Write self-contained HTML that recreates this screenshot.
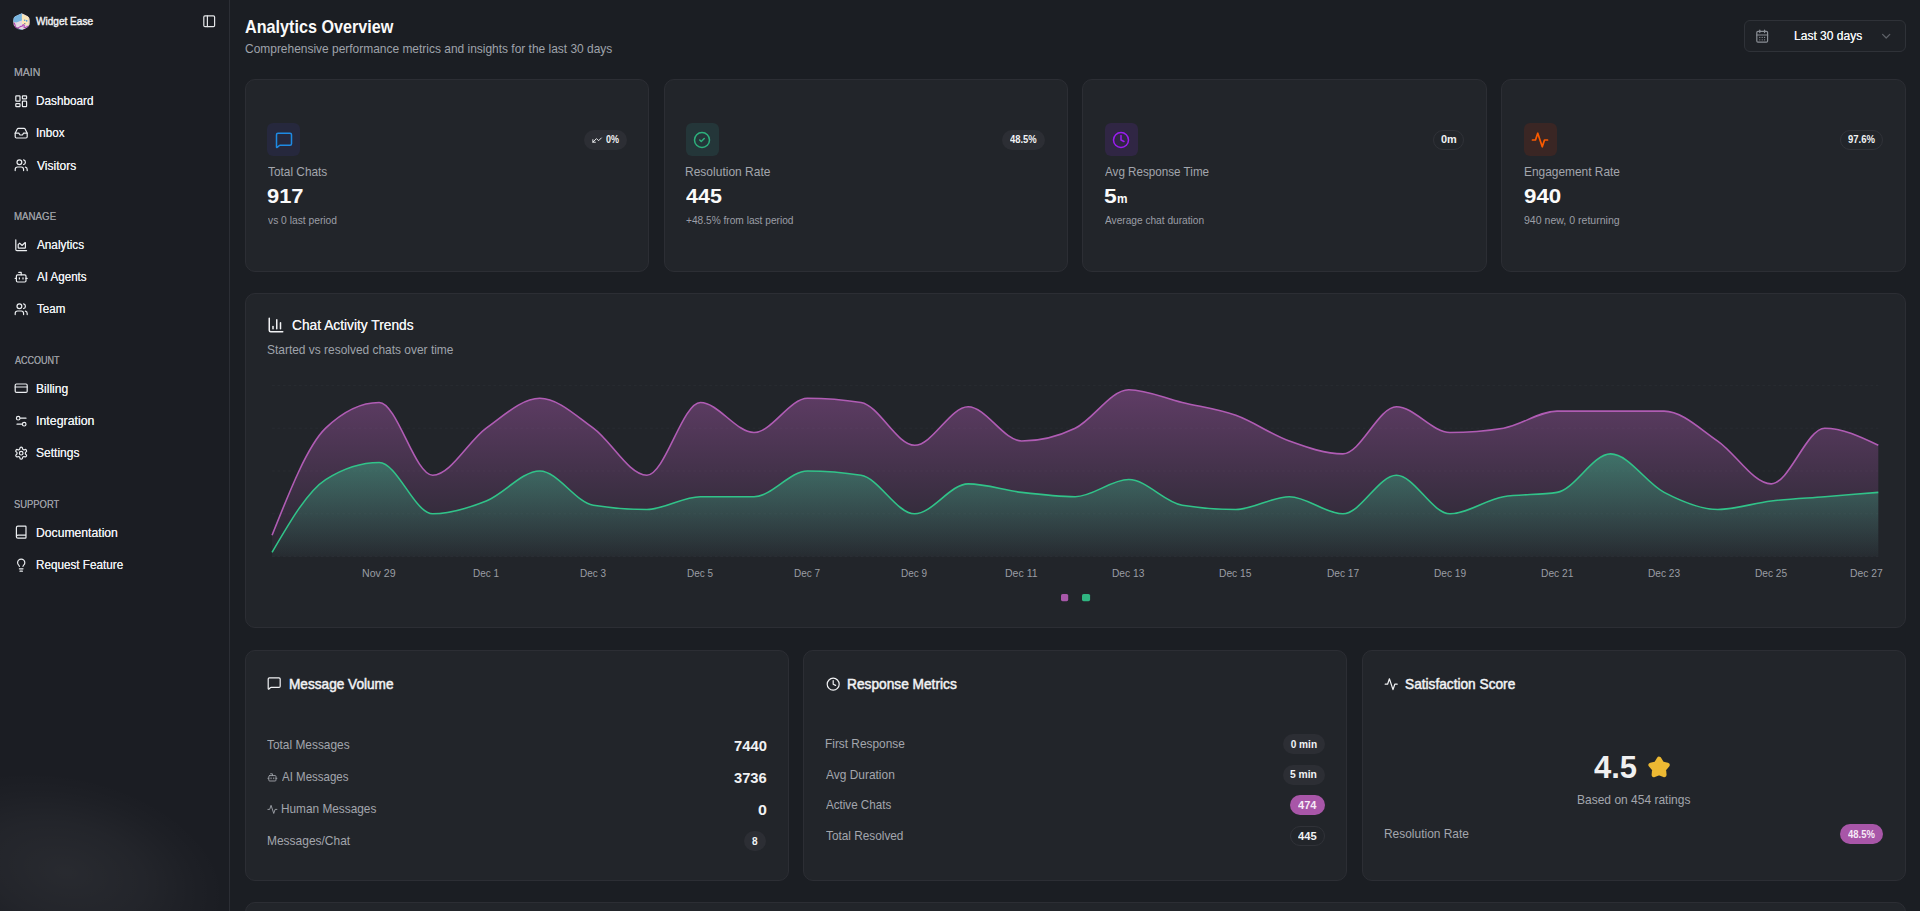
<!DOCTYPE html>
<html lang="en"><head><meta charset="utf-8"><title>Analytics Overview</title>
<style>
html,body{margin:0;padding:0}
html{overflow:hidden;height:911px;background:#1b1e23}
body{width:1920px;height:911px;overflow:hidden;position:relative;background:#1b1e23;font-family:"Liberation Sans",sans-serif}
.b{position:absolute;box-sizing:border-box}
.i{position:absolute;display:block;overflow:visible}
.t{position:absolute;white-space:nowrap;line-height:1;transform-origin:0 0;display:block}
#side{position:absolute;left:0;top:0;width:229px;height:911px;border-right:1px solid #2c2e35;background:#1b1d23;overflow:hidden}
#glow{position:absolute;left:-96px;top:776px;width:324px;height:192px;background:radial-gradient(closest-side,rgba(255,255,255,.06),rgba(255,255,255,.034) 50%,rgba(255,255,255,.012) 80%,rgba(255,255,255,0) 100%);transform:rotate(13deg)}
</style></head><body>
<div id="side"><div id="glow"></div></div>
<svg class="i" style="left:12.8px;top:12.8px;width:17.3px;height:17.3px;clip-path:circle(49.5%)" viewBox="0 0 24 24">
<path d="M12.3 .3 22.8 5.400q.7.400.7 1.200v11q0 .8-.7 1.200L13.100 23.600q-.7.400-1.400 0L1.100 18.500q-.7-.4-.7-1.200V6.700q0-.8.700-1.200z" fill="#ddd3df"/>
<path d="M12.3 .3 1.100 5.600q-.7.400-.7 1.200v5.200l4.500 1.200 7.500-2.700z" fill="#78b5e0"/>
<path d="M12.400 1.500 22 6v11.300l-9.500-2z" fill="#fbe6b9"/>
<path d="M22 6l1.500.8v10.600l-1.500.8z" fill="#a9a6ae"/>
<path d="M5 13.200l7.300-2.600.2 11.600-7-3z" fill="#e3d8e4"/>
<circle cx="16.200" cy="10" r="1.150" fill="#3f9be0"/><circle cx="19" cy="11" r="1.150" fill="#3f9be0"/>
<rect x="15.500" y="14" width="1.600" height="1.600" fill="#6b6e78"/>
<path d="M1.600 13.500l1.300 3.500 1 4.200 3.500-.6 2.600-1.700 3-.8 1.200-2 1.500 1.500-.5 2.200 2 .6 2.300-1.500 2.300-1" fill="none" stroke="#b043b3" stroke-width="1.500" stroke-linejoin="round"/>
<path d="M3 21.200l5 2 4.500-.2" fill="none" stroke="#5d9fd0" stroke-width="1"/>
</svg>
<div class="b" style="left:1744px;top:20px;width:162px;height:32px;background:#1e2126;border-radius:6px;border:1px solid #2f3238;"></div>
<div class="b" style="left:245px;top:79px;width:404px;height:193px;background:#22252a;border-radius:10px;border:1px solid #2c2e34;"></div>
<div class="b" style="left:664px;top:79px;width:404px;height:193px;background:#22252a;border-radius:10px;border:1px solid #2c2e34;"></div>
<div class="b" style="left:1082px;top:79px;width:405px;height:193px;background:#22252a;border-radius:10px;border:1px solid #2c2e34;"></div>
<div class="b" style="left:1501px;top:79px;width:405px;height:193px;background:#22252a;border-radius:10px;border:1px solid #2c2e34;"></div>
<div class="b" style="left:267px;top:123px;width:33px;height:33px;background:#26283d;border-radius:6px;"></div>
<div class="b" style="left:686px;top:123px;width:32.5px;height:33px;background:#243639;border-radius:6px;"></div>
<div class="b" style="left:1105px;top:123px;width:32.5px;height:33px;background:#302644;border-radius:6px;"></div>
<div class="b" style="left:1524px;top:123px;width:32.5px;height:33px;background:#3a2624;border-radius:6px;"></div>
<div class="b" style="left:584px;top:130px;width:42.799999999999955px;height:20px;background:#2c2e34;border-radius:10px;"></div>
<div class="b" style="left:1002.4px;top:130px;width:42.39999999999998px;height:20px;background:#2c2e34;border-radius:10px;"></div>
<div class="b" style="left:1433.2px;top:130px;width:30.59999999999991px;height:20px;background:transparent;border-radius:10px;border:1px solid #303238;"></div>
<div class="b" style="left:1840.2px;top:130px;width:42.399999999999864px;height:20px;background:transparent;border-radius:10px;border:1px solid #303238;"></div>
<div class="b" style="left:245px;top:293px;width:1661px;height:335px;background:#22252a;border-radius:10px;border:1px solid #2c2e34;"></div>
<div class="b" style="left:245px;top:650px;width:544px;height:231px;background:#22252a;border-radius:10px;border:1px solid #2c2e34;"></div>
<div class="b" style="left:803px;top:650px;width:544px;height:231px;background:#22252a;border-radius:10px;border:1px solid #2c2e34;"></div>
<div class="b" style="left:1362px;top:650px;width:544px;height:231px;background:#22252a;border-radius:10px;border:1px solid #2c2e34;"></div>
<div class="b" style="left:245px;top:902px;width:1661px;height:28px;background:#22252a;border-radius:10px;border:1px solid #2c2e34;"></div>
<div class="b" style="left:743.8px;top:831px;width:22.0px;height:20px;background:#2c2e34;border-radius:10px;"></div>
<div class="b" style="left:1283.3px;top:734.2px;width:41.600000000000136px;height:19.799999999999955px;background:#2c2e34;border-radius:10px;"></div>
<div class="b" style="left:1283.3px;top:764.8px;width:41.600000000000136px;height:19.800000000000068px;background:#2c2e34;border-radius:10px;"></div>
<div class="b" style="left:1290.1px;top:795.2px;width:34.80000000000018px;height:19.799999999999955px;background:#a856a8;border-radius:10px;"></div>
<div class="b" style="left:1290.1px;top:826.0px;width:34.80000000000018px;height:19.799999999999955px;background:transparent;border-radius:10px;border:1px solid #303238;"></div>
<div class="b" style="left:1839.8px;top:824.4px;width:43.0px;height:19.800000000000068px;background:#a856a8;border-radius:10px;"></div>
<svg class="i" style="left:0;top:0;width:1920px;height:911px" viewBox="0 0 1920 911">
<defs>
<linearGradient id="gp" x1="0" y1="0" x2="0" y2="1"><stop offset="0" stop-color="#b05cb4" stop-opacity=".43"/><stop offset="1" stop-color="#b05cb4" stop-opacity=".03"/></linearGradient>
<linearGradient id="gg" x1="0" y1="0" x2="0" y2="1"><stop offset="0" stop-color="#31c389" stop-opacity=".43"/><stop offset="1" stop-color="#31c389" stop-opacity=".03"/></linearGradient>
</defs>
<g stroke="#33363d" stroke-width="1" stroke-dasharray="2.7 2.7" opacity=".42"><line x1="272.1" x2="1878.3" y1="385.4" y2="385.4"/><line x1="272.1" x2="1878.3" y1="428.2" y2="428.2"/><line x1="272.1" x2="1878.3" y1="471.0" y2="471.0"/><line x1="272.1" x2="1878.3" y1="513.8" y2="513.8"/><line x1="272.1" x2="1878.3" y1="556.6" y2="556.6"/></g>
<path d="M272.10,535.20C289.95,490.26 307.79,445.32 325.64,428.20C343.49,411.08 361.33,402.52 379.18,402.52C397.03,402.52 414.87,475.28 432.72,475.28C450.57,475.28 468.41,441.04 486.26,428.20C504.11,415.36 521.95,398.24 539.80,398.24C557.65,398.24 575.49,415.36 593.34,428.20C611.19,441.04 629.03,475.28 646.88,475.28C664.73,475.28 682.57,402.52 700.42,402.52C718.27,402.52 736.11,432.48 753.96,432.48C771.81,432.48 789.65,398.24 807.50,398.24C825.35,398.24 843.19,399.67 861.04,402.52C878.89,405.37 896.73,445.32 914.58,445.32C932.43,445.32 950.27,406.80 968.12,406.80C985.97,406.80 1003.81,441.04 1021.66,441.04C1039.51,441.04 1057.35,436.76 1075.20,428.20C1093.05,419.64 1110.89,389.68 1128.74,389.68C1146.59,389.68 1164.43,398.24 1182.28,402.52C1200.13,406.80 1217.97,408.94 1235.82,415.36C1253.67,421.78 1271.51,434.62 1289.36,441.04C1307.21,447.46 1325.05,453.88 1342.90,453.88C1360.75,453.88 1378.59,406.80 1396.44,406.80C1414.29,406.80 1432.13,432.48 1449.98,432.48C1467.83,432.48 1485.67,431.05 1503.52,428.20C1521.37,425.35 1539.21,411.08 1557.06,411.08C1574.91,411.08 1592.75,411.08 1610.60,411.08C1628.45,411.08 1646.29,411.08 1664.14,411.08C1681.99,411.08 1699.83,428.91 1717.68,441.04C1735.53,453.17 1753.37,483.84 1771.22,483.84C1789.07,483.84 1806.91,428.20 1824.76,428.20C1842.61,428.20 1860.45,436.76 1878.30,445.32L1878.3,556.6L272.1,556.6Z" fill="url(#gp)"/>
<path d="M272.10,535.20C289.95,490.26 307.79,445.32 325.64,428.20C343.49,411.08 361.33,402.52 379.18,402.52C397.03,402.52 414.87,475.28 432.72,475.28C450.57,475.28 468.41,441.04 486.26,428.20C504.11,415.36 521.95,398.24 539.80,398.24C557.65,398.24 575.49,415.36 593.34,428.20C611.19,441.04 629.03,475.28 646.88,475.28C664.73,475.28 682.57,402.52 700.42,402.52C718.27,402.52 736.11,432.48 753.96,432.48C771.81,432.48 789.65,398.24 807.50,398.24C825.35,398.24 843.19,399.67 861.04,402.52C878.89,405.37 896.73,445.32 914.58,445.32C932.43,445.32 950.27,406.80 968.12,406.80C985.97,406.80 1003.81,441.04 1021.66,441.04C1039.51,441.04 1057.35,436.76 1075.20,428.20C1093.05,419.64 1110.89,389.68 1128.74,389.68C1146.59,389.68 1164.43,398.24 1182.28,402.52C1200.13,406.80 1217.97,408.94 1235.82,415.36C1253.67,421.78 1271.51,434.62 1289.36,441.04C1307.21,447.46 1325.05,453.88 1342.90,453.88C1360.75,453.88 1378.59,406.80 1396.44,406.80C1414.29,406.80 1432.13,432.48 1449.98,432.48C1467.83,432.48 1485.67,431.05 1503.52,428.20C1521.37,425.35 1539.21,411.08 1557.06,411.08C1574.91,411.08 1592.75,411.08 1610.60,411.08C1628.45,411.08 1646.29,411.08 1664.14,411.08C1681.99,411.08 1699.83,428.91 1717.68,441.04C1735.53,453.17 1753.37,483.84 1771.22,483.84C1789.07,483.84 1806.91,428.20 1824.76,428.20C1842.61,428.20 1860.45,436.76 1878.30,445.32" fill="none" stroke="#b05cb4" stroke-width="1.6"/>
<path d="M272.10,552.32C289.95,521.65 307.79,490.97 325.64,479.56C343.49,468.15 361.33,462.44 379.18,462.44C397.03,462.44 414.87,513.80 432.72,513.80C450.57,513.80 468.41,508.09 486.26,500.96C504.11,493.83 521.95,471.00 539.80,471.00C557.65,471.00 575.49,502.39 593.34,505.24C611.19,508.09 629.03,509.52 646.88,509.52C664.73,509.52 682.57,496.68 700.42,496.68C718.27,496.68 736.11,496.68 753.96,496.68C771.81,496.68 789.65,471.00 807.50,471.00C825.35,471.00 843.19,472.43 861.04,475.28C878.89,478.13 896.73,513.80 914.58,513.80C932.43,513.80 950.27,483.84 968.12,483.84C985.97,483.84 1003.81,490.26 1021.66,492.40C1039.51,494.54 1057.35,496.68 1075.20,496.68C1093.05,496.68 1110.89,479.56 1128.74,479.56C1146.59,479.56 1164.43,502.39 1182.28,505.24C1200.13,508.09 1217.97,509.52 1235.82,509.52C1253.67,509.52 1271.51,496.68 1289.36,496.68C1307.21,496.68 1325.05,513.80 1342.90,513.80C1360.75,513.80 1378.59,475.28 1396.44,475.28C1414.29,475.28 1432.13,513.80 1449.98,513.80C1467.83,513.80 1485.67,499.53 1503.52,496.68C1521.37,493.83 1539.21,495.25 1557.06,492.40C1574.91,489.55 1592.75,453.88 1610.60,453.88C1628.45,453.88 1646.29,483.13 1664.14,492.40C1681.99,501.67 1699.83,509.52 1717.68,509.52C1735.53,509.52 1753.37,503.10 1771.22,500.96C1789.07,498.82 1806.91,498.11 1824.76,496.68C1842.61,495.25 1860.45,493.83 1878.30,492.40L1878.3,556.6L272.1,556.6Z" fill="url(#gg)"/>
<path d="M272.10,552.32C289.95,521.65 307.79,490.97 325.64,479.56C343.49,468.15 361.33,462.44 379.18,462.44C397.03,462.44 414.87,513.80 432.72,513.80C450.57,513.80 468.41,508.09 486.26,500.96C504.11,493.83 521.95,471.00 539.80,471.00C557.65,471.00 575.49,502.39 593.34,505.24C611.19,508.09 629.03,509.52 646.88,509.52C664.73,509.52 682.57,496.68 700.42,496.68C718.27,496.68 736.11,496.68 753.96,496.68C771.81,496.68 789.65,471.00 807.50,471.00C825.35,471.00 843.19,472.43 861.04,475.28C878.89,478.13 896.73,513.80 914.58,513.80C932.43,513.80 950.27,483.84 968.12,483.84C985.97,483.84 1003.81,490.26 1021.66,492.40C1039.51,494.54 1057.35,496.68 1075.20,496.68C1093.05,496.68 1110.89,479.56 1128.74,479.56C1146.59,479.56 1164.43,502.39 1182.28,505.24C1200.13,508.09 1217.97,509.52 1235.82,509.52C1253.67,509.52 1271.51,496.68 1289.36,496.68C1307.21,496.68 1325.05,513.80 1342.90,513.80C1360.75,513.80 1378.59,475.28 1396.44,475.28C1414.29,475.28 1432.13,513.80 1449.98,513.80C1467.83,513.80 1485.67,499.53 1503.52,496.68C1521.37,493.83 1539.21,495.25 1557.06,492.40C1574.91,489.55 1592.75,453.88 1610.60,453.88C1628.45,453.88 1646.29,483.13 1664.14,492.40C1681.99,501.67 1699.83,509.52 1717.68,509.52C1735.53,509.52 1753.37,503.10 1771.22,500.96C1789.07,498.82 1806.91,498.11 1824.76,496.68C1842.61,495.25 1860.45,493.83 1878.30,492.40" fill="none" stroke="#31c389" stroke-width="1.6"/>
<rect x="1061" y="594" width="7.2" height="7.2" rx="1.6" fill="#a858a9"/>
<rect x="1082" y="594" width="8.1" height="7.2" rx="1.6" fill="#30b581"/>
</svg>
<svg class="i" style="left:201.90px;top:13.80px;width:14.4px;height:14.4px;opacity:1" viewBox="0 0 24 24" fill="none" stroke="#e4e5e8" stroke-width="2" stroke-linecap="round" stroke-linejoin="round"><rect width="18" height="18" x="3" y="3" rx="2"/><path d="M9 3v18"/></svg>
<svg class="i" style="left:14.10px;top:93.90px;width:14.4px;height:14.4px;opacity:1" viewBox="0 0 24 24" fill="none" stroke="#eceef1" stroke-width="2" stroke-linecap="round" stroke-linejoin="round"><rect x="3" y="3" width="7" height="9" rx="1"/><rect x="14" y="3" width="7" height="5" rx="1"/><rect x="14" y="12" width="7" height="9" rx="1"/><rect x="3" y="16" width="7" height="5" rx="1"/></svg>
<svg class="i" style="left:14.10px;top:126.30px;width:14.4px;height:14.4px;opacity:1" viewBox="0 0 24 24" fill="none" stroke="#eceef1" stroke-width="2" stroke-linecap="round" stroke-linejoin="round"><polyline points="22 12 16 12 14 15 10 15 8 12 2 12"/><path d="M5.45 5.11 2 12v6a2 2 0 0 0 2 2h16a2 2 0 0 0 2-2v-6l-3.45-6.89A2 2 0 0 0 16.76 4H7.24a2 2 0 0 0-1.79 1.11z"/></svg>
<svg class="i" style="left:14.10px;top:157.70px;width:14.4px;height:14.4px;opacity:1" viewBox="0 0 24 24" fill="none" stroke="#eceef1" stroke-width="2" stroke-linecap="round" stroke-linejoin="round"><path d="M16 21v-2a4 4 0 0 0-4-4H6a4 4 0 0 0-4 4v2"/><circle cx="9" cy="7" r="4"/><path d="M22 21v-2a4 4 0 0 0-3-3.87"/><path d="M16 3.13a4 4 0 0 1 0 7.75"/></svg>
<svg class="i" style="left:14.10px;top:237.90px;width:14.4px;height:14.4px;opacity:1" viewBox="0 0 24 24" fill="none" stroke="#eceef1" stroke-width="2" stroke-linecap="round" stroke-linejoin="round"><path d="M3 3v16a2 2 0 0 0 2 2h16"/><path d="M7 11.207a.5.5 0 0 1 .146-.353l2-2a.5.5 0 0 1 .708 0l3.292 3.292a.5.5 0 0 0 .708 0l4.292-4.292a.5.5 0 0 1 .854.353V16a1 1 0 0 1-1 1H8a1 1 0 0 1-1-1z"/></svg>
<svg class="i" style="left:14.10px;top:270.30px;width:14.4px;height:14.4px;opacity:1" viewBox="0 0 24 24" fill="none" stroke="#eceef1" stroke-width="2" stroke-linecap="round" stroke-linejoin="round"><path d="M12 8V4H8"/><rect width="16" height="12" x="4" y="8" rx="2"/><path d="M2 14h2"/><path d="M20 14h2"/><path d="M15 13v2"/><path d="M9 13v2"/></svg>
<svg class="i" style="left:14.10px;top:301.80px;width:14.4px;height:14.4px;opacity:1" viewBox="0 0 24 24" fill="none" stroke="#eceef1" stroke-width="2" stroke-linecap="round" stroke-linejoin="round"><path d="M16 21v-2a4 4 0 0 0-4-4H6a4 4 0 0 0-4 4v2"/><circle cx="9" cy="7" r="4"/><path d="M22 21v-2a4 4 0 0 0-3-3.87"/><path d="M16 3.13a4 4 0 0 1 0 7.75"/></svg>
<svg class="i" style="left:14.10px;top:380.90px;width:14.4px;height:14.4px;opacity:1" viewBox="0 0 24 24" fill="none" stroke="#eceef1" stroke-width="2" stroke-linecap="round" stroke-linejoin="round"><rect width="20" height="14" x="2" y="5" rx="2"/><line x1="2" x2="22" y1="10" y2="10"/></svg>
<svg class="i" style="left:14.10px;top:414.30px;width:14.4px;height:14.4px;opacity:1" viewBox="0 0 24 24" fill="none" stroke="#eceef1" stroke-width="2" stroke-linecap="round" stroke-linejoin="round"><path d="M20 7h-9"/><path d="M14 17H5"/><circle cx="17" cy="17" r="3"/><circle cx="7" cy="7" r="3"/></svg>
<svg class="i" style="left:14.10px;top:445.80px;width:14.4px;height:14.4px;opacity:1" viewBox="0 0 24 24" fill="none" stroke="#eceef1" stroke-width="2" stroke-linecap="round" stroke-linejoin="round"><path d="M12.22 2h-.44a2 2 0 0 0-2 2v.18a2 2 0 0 1-1 1.73l-.43.25a2 2 0 0 1-2 0l-.15-.08a2 2 0 0 0-2.73.73l-.22.38a2 2 0 0 0 .73 2.73l.15.1a2 2 0 0 1 1 1.72v.51a2 2 0 0 1-1 1.74l-.15.09a2 2 0 0 0-.73 2.73l.22.38a2 2 0 0 0 2.73.73l.15-.08a2 2 0 0 1 2 0l.43.25a2 2 0 0 1 1 1.73V20a2 2 0 0 0 2 2h.44a2 2 0 0 0 2-2v-.18a2 2 0 0 1 1-1.73l.43-.25a2 2 0 0 1 2 0l.15.08a2 2 0 0 0 2.73-.73l.22-.39a2 2 0 0 0-.73-2.73l-.15-.08a2 2 0 0 1-1-1.74v-.5a2 2 0 0 1 1-1.74l.15-.09a2 2 0 0 0 .73-2.73l-.22-.38a2 2 0 0 0-2.73-.73l-.15.08a2 2 0 0 1-2 0l-.43-.25a2 2 0 0 1-1-1.73V4a2 2 0 0 0-2-2z"/><circle cx="12" cy="12" r="3"/></svg>
<svg class="i" style="left:14.10px;top:524.90px;width:14.4px;height:14.4px;opacity:1" viewBox="0 0 24 24" fill="none" stroke="#eceef1" stroke-width="2" stroke-linecap="round" stroke-linejoin="round"><path d="M4 19.5v-15A2.5 2.5 0 0 1 6.5 2H19a1 1 0 0 1 1 1v18a1 1 0 0 1-1 1H6.5a1 1 0 0 1 0-5H20"/></svg>
<svg class="i" style="left:14.10px;top:558.30px;width:14.4px;height:14.4px;opacity:1" viewBox="0 0 24 24" fill="none" stroke="#eceef1" stroke-width="2" stroke-linecap="round" stroke-linejoin="round"><path d="M15 14c.2-1 .7-1.7 1.5-2.5 1-.9 1.5-2.2 1.5-3.5A6 6 0 0 0 6 8c0 1 .2 2.2 1.5 3.5.7.7 1.3 1.5 1.5 2.5"/><path d="M9 18h6"/><path d="M10 22h4"/></svg>
<svg class="i" style="left:1755.00px;top:29.10px;width:14.4px;height:14.4px;opacity:1" viewBox="0 0 24 24" fill="none" stroke="#8b8f96" stroke-width="2" stroke-linecap="round" stroke-linejoin="round"><path d="M8 2v4"/><path d="M16 2v4"/><rect width="18" height="18" x="3" y="4" rx="2"/><path d="M3 10h18"/><path d="M8 14h.01"/><path d="M12 14h.01"/><path d="M16 14h.01"/><path d="M8 18h.01"/><path d="M12 18h.01"/><path d="M16 18h.01"/></svg>
<svg class="i" style="left:1879.10px;top:29.30px;width:14.4px;height:14.4px;opacity:0.6" viewBox="0 0 24 24" fill="none" stroke="#8b8f96" stroke-width="2" stroke-linecap="round" stroke-linejoin="round"><path d="m6 9 6 6 6-6"/></svg>
<svg class="i" style="left:274.70px;top:130.90px;width:18px;height:18px;opacity:1" viewBox="0 0 24 24" fill="none" stroke="#1e8ae4" stroke-width="2" stroke-linecap="round" stroke-linejoin="round"><path d="M22 17a2 2 0 0 1-2 2H6.828a2 2 0 0 0-1.414.586l-2.202 2.202A.71.71 0 0 1 2 21.286V5a2 2 0 0 1 2-2h16a2 2 0 0 1 2 2z"/></svg>
<svg class="i" style="left:693.10px;top:130.90px;width:18px;height:18px;opacity:1" viewBox="0 0 24 24" fill="none" stroke="#2db07c" stroke-width="2" stroke-linecap="round" stroke-linejoin="round"><circle cx="12" cy="12" r="10"/><path d="m9 12 2 2 4-4"/></svg>
<svg class="i" style="left:1112.10px;top:130.90px;width:18px;height:18px;opacity:1" viewBox="0 0 24 24" fill="none" stroke="#9b1cf0" stroke-width="2" stroke-linecap="round" stroke-linejoin="round"><circle cx="12" cy="12" r="10"/><polyline points="12 6 12 12 16 14"/></svg>
<svg class="i" style="left:1531.10px;top:130.90px;width:18px;height:18px;opacity:1" viewBox="0 0 24 24" fill="none" stroke="#fa5a00" stroke-width="2.3" stroke-linecap="round" stroke-linejoin="round"><path d="M22 12h-4l-3 9L9 3l-3 9H2"/></svg>
<svg class="i" style="left:591.90px;top:134.70px;width:10.2px;height:10.2px;opacity:1" viewBox="0 0 24 24" fill="none" stroke="#f1f2f4" stroke-width="2.2" stroke-linecap="round" stroke-linejoin="round"><polyline points="2 17 10.5 8.5 15.5 13.5 22 7"/><polyline points="8 17 2 17 2 11"/></svg>
<svg class="i" style="left:267.00px;top:316.30px;width:18px;height:18px;opacity:1" viewBox="0 0 24 24" fill="none" stroke="#f1f2f4" stroke-width="2" stroke-linecap="round" stroke-linejoin="round"><path d="M3 3v16a2 2 0 0 0 2 2h16"/><path d="M18 17V9"/><path d="M13 17V5"/><path d="M8 17v-3"/></svg>
<svg class="i" style="left:267.00px;top:676.00px;width:14.4px;height:14.4px;opacity:1" viewBox="0 0 24 24" fill="none" stroke="#f1f2f4" stroke-width="2" stroke-linecap="round" stroke-linejoin="round"><path d="M22 17a2 2 0 0 1-2 2H6.828a2 2 0 0 0-1.414.586l-2.202 2.202A.71.71 0 0 1 2 21.286V5a2 2 0 0 1 2-2h16a2 2 0 0 1 2 2z"/></svg>
<svg class="i" style="left:266.90px;top:771.90px;width:10.8px;height:10.8px;opacity:1" viewBox="0 0 24 24" fill="none" stroke="#a3a6ad" stroke-width="2" stroke-linecap="round" stroke-linejoin="round"><path d="M12 8V4H8"/><rect width="16" height="12" x="4" y="8" rx="2"/><path d="M2 14h2"/><path d="M20 14h2"/><path d="M15 13v2"/><path d="M9 13v2"/></svg>
<svg class="i" style="left:266.90px;top:803.80px;width:10.8px;height:10.8px;opacity:1" viewBox="0 0 24 24" fill="none" stroke="#a3a6ad" stroke-width="2" stroke-linecap="round" stroke-linejoin="round"><path d="M22 12h-4l-3 9L9 3l-3 9H2"/></svg>
<svg class="i" style="left:826.00px;top:676.50px;width:14.4px;height:14.4px;opacity:1" viewBox="0 0 24 24" fill="none" stroke="#f1f2f4" stroke-width="2" stroke-linecap="round" stroke-linejoin="round"><circle cx="12" cy="12" r="10"/><polyline points="12 6 12 12 16 14"/></svg>
<svg class="i" style="left:1384.20px;top:676.50px;width:14.4px;height:14.4px;opacity:1" viewBox="0 0 24 24" fill="none" stroke="#f1f2f4" stroke-width="2" stroke-linecap="round" stroke-linejoin="round"><path d="M22 12h-4l-3 9L9 3l-3 9H2"/></svg>
<svg class="i" style="left:1647.4px;top:754.8px;width:24.2px;height:24.2px" viewBox="0 0 24 24"><polygon points="12.00,4.00 14.88,8.74 20.27,10.01 16.66,14.21 17.11,19.74 12.00,17.60 6.89,19.74 7.34,14.21 3.73,10.01 9.12,8.74" fill="#edb933" stroke="#edb933" stroke-width="4.6" stroke-linejoin="round"/></svg>
<span class="t" style="left:36.32px;top:15.18px;font-size:11.6px;font-weight:400;color:#f1f2f4;transform:scaleX(0.8672);-webkit-text-stroke:.45px #f1f2f4;">Widget Ease</span>
<span class="t" style="left:14.08px;top:66.86px;font-size:10.8px;font-weight:400;color:#999ba1;transform:scaleX(0.9765);text-shadow:0 0 .35px #999ba1;">MAIN</span>
<span class="t" style="left:35.80px;top:95.33px;font-size:12.6px;font-weight:400;color:#eceef1;transform:scaleX(0.9340);text-shadow:0 0 .4px #eceef1;">Dashboard</span>
<span class="t" style="left:35.51px;top:126.73px;font-size:12.6px;font-weight:400;color:#eceef1;transform:scaleX(0.9241);text-shadow:0 0 .4px #eceef1;">Inbox</span>
<span class="t" style="left:36.70px;top:160.13px;font-size:12.6px;font-weight:400;color:#eceef1;transform:scaleX(0.9554);text-shadow:0 0 .4px #eceef1;">Visitors</span>
<span class="t" style="left:14.08px;top:210.86px;font-size:10.8px;font-weight:400;color:#999ba1;transform:scaleX(0.9000);text-shadow:0 0 .35px #999ba1;">MANAGE</span>
<span class="t" style="left:36.85px;top:239.33px;font-size:12.6px;font-weight:400;color:#eceef1;transform:scaleX(0.9332);text-shadow:0 0 .4px #eceef1;">Analytics</span>
<span class="t" style="left:36.78px;top:270.73px;font-size:12.6px;font-weight:400;color:#eceef1;transform:scaleX(0.9201);text-shadow:0 0 .4px #eceef1;">AI Agents</span>
<span class="t" style="left:36.83px;top:303.23px;font-size:12.6px;font-weight:400;color:#eceef1;transform:scaleX(0.9202);text-shadow:0 0 .4px #eceef1;">Team</span>
<span class="t" style="left:14.82px;top:354.86px;font-size:10.8px;font-weight:400;color:#999ba1;transform:scaleX(0.8356);text-shadow:0 0 .35px #999ba1;">ACCOUNT</span>
<span class="t" style="left:35.64px;top:383.33px;font-size:12.6px;font-weight:400;color:#eceef1;transform:scaleX(0.9594);text-shadow:0 0 .4px #eceef1;">Billing</span>
<span class="t" style="left:35.77px;top:414.73px;font-size:12.6px;font-weight:400;color:#eceef1;transform:scaleX(0.9826);text-shadow:0 0 .4px #eceef1;">Integration</span>
<span class="t" style="left:36.08px;top:447.23px;font-size:12.6px;font-weight:400;color:#eceef1;transform:scaleX(0.9553);text-shadow:0 0 .4px #eceef1;">Settings</span>
<span class="t" style="left:14.23px;top:498.86px;font-size:10.8px;font-weight:400;color:#999ba1;transform:scaleX(0.8705);text-shadow:0 0 .35px #999ba1;">SUPPORT</span>
<span class="t" style="left:35.64px;top:527.33px;font-size:12.6px;font-weight:400;color:#eceef1;transform:scaleX(0.9668);text-shadow:0 0 .4px #eceef1;">Documentation</span>
<span class="t" style="left:36.01px;top:558.73px;font-size:12.6px;font-weight:400;color:#eceef1;transform:scaleX(0.9289);text-shadow:0 0 .4px #eceef1;">Request Feature</span>
<span class="t" style="left:244.78px;top:18.93px;font-size:17.8px;font-weight:700;color:#fafafa;transform:scaleX(0.9098);">Analytics Overview</span>
<span class="t" style="left:244.90px;top:42.63px;font-size:12.6px;font-weight:400;color:#9fa3ab;transform:scaleX(0.9489);">Comprehensive performance metrics and insights for the last 30 days</span>
<span class="t" style="left:1793.63px;top:30.03px;font-size:12.6px;font-weight:400;color:#f1f2f4;transform:scaleX(0.9553);text-shadow:0 0 .4px #f1f2f4;">Last 30 days</span>
<span class="t" style="left:267.89px;top:166.33px;font-size:12.6px;font-weight:400;color:#a3a6ad;transform:scaleX(0.9410);">Total Chats</span>
<span class="t" style="left:267.44px;top:186.37px;font-size:20.7px;font-weight:700;color:#fafafa;transform:scaleX(1.0592);">917</span>
<span class="t" style="left:268.28px;top:214.66px;font-size:10.8px;font-weight:400;color:#9b9ea6;transform:scaleX(0.9508);">vs 0 last period</span>
<span class="t" style="left:685.42px;top:166.33px;font-size:12.6px;font-weight:400;color:#a3a6ad;transform:scaleX(0.9536);">Resolution Rate</span>
<span class="t" style="left:686.03px;top:186.37px;font-size:20.7px;font-weight:700;color:#fafafa;transform:scaleX(1.0393);">445</span>
<span class="t" style="left:685.88px;top:214.66px;font-size:10.8px;font-weight:400;color:#9b9ea6;transform:scaleX(0.9400);">+48.5% from last period</span>
<span class="t" style="left:1105.22px;top:166.33px;font-size:12.6px;font-weight:400;color:#a3a6ad;transform:scaleX(0.9253);">Avg Response Time</span>
<span class="t" style="left:1105.49px;top:214.66px;font-size:10.8px;font-weight:400;color:#9b9ea6;transform:scaleX(0.9394);">Average chat duration</span>
<span class="t" style="left:1523.56px;top:166.33px;font-size:12.6px;font-weight:400;color:#a3a6ad;transform:scaleX(0.9451);">Engagement Rate</span>
<span class="t" style="left:1523.68px;top:186.37px;font-size:20.7px;font-weight:700;color:#fafafa;transform:scaleX(1.0784);">940</span>
<span class="t" style="left:1523.95px;top:214.66px;font-size:10.8px;font-weight:400;color:#9b9ea6;transform:scaleX(0.9776);">940 new, 0 returning</span>
<span class="t" style="left:1104.29px;top:186.37px;font-size:20.7px;font-weight:700;color:#fafafa;transform:scaleX(1.1069);">5</span>
<span class="t" style="left:1116.61px;top:193.23px;font-size:12.6px;font-weight:700;color:#fafafa;transform:scaleX(0.9372);">m</span>
<span class="t" style="left:606.05px;top:135.45px;font-size:10.1px;font-weight:700;color:#f1f2f4;transform:scaleX(0.8906);">0%</span>
<span class="t" style="left:1010.30px;top:135.45px;font-size:10.1px;font-weight:700;color:#f1f2f4;transform:scaleX(0.9332);">48.5%</span>
<span class="t" style="left:1440.66px;top:135.45px;font-size:10.1px;font-weight:700;color:#f1f2f4;transform:scaleX(1.0828);">0m</span>
<span class="t" style="left:1848.08px;top:135.45px;font-size:10.1px;font-weight:700;color:#f1f2f4;transform:scaleX(0.9437);">97.6%</span>
<span class="t" style="left:291.91px;top:318.11px;font-size:14.4px;font-weight:400;color:#f1f2f4;transform:scaleX(0.9564);text-shadow:0 0 .5px #f1f2f4;">Chat Activity Trends</span>
<span class="t" style="left:266.97px;top:343.63px;font-size:12.6px;font-weight:400;color:#9fa3ab;transform:scaleX(0.9479);">Started vs resolved chats over time</span>
<span class="t" style="left:361.77px;top:568.26px;font-size:10.8px;font-weight:400;color:#9a9da4;transform:scaleX(0.9813);">Nov 29</span>
<span class="t" style="left:473.02px;top:568.26px;font-size:10.8px;font-weight:400;color:#9a9da4;transform:scaleX(0.9226);">Dec 1</span>
<span class="t" style="left:580.34px;top:568.26px;font-size:10.8px;font-weight:400;color:#9a9da4;transform:scaleX(0.9218);">Dec 3</span>
<span class="t" style="left:687.12px;top:568.26px;font-size:10.8px;font-weight:400;color:#9a9da4;transform:scaleX(0.9239);">Dec 5</span>
<span class="t" style="left:794.13px;top:568.26px;font-size:10.8px;font-weight:400;color:#9a9da4;transform:scaleX(0.9229);">Dec 7</span>
<span class="t" style="left:901.38px;top:568.26px;font-size:10.8px;font-weight:400;color:#9a9da4;transform:scaleX(0.9231);">Dec 9</span>
<span class="t" style="left:1004.89px;top:568.26px;font-size:10.8px;font-weight:400;color:#9a9da4;transform:scaleX(0.9741);">Dec 11</span>
<span class="t" style="left:1112.43px;top:568.26px;font-size:10.8px;font-weight:400;color:#9a9da4;transform:scaleX(0.9458);">Dec 13</span>
<span class="t" style="left:1219.34px;top:568.26px;font-size:10.8px;font-weight:400;color:#9a9da4;transform:scaleX(0.9496);">Dec 15</span>
<span class="t" style="left:1326.74px;top:568.26px;font-size:10.8px;font-weight:400;color:#9a9da4;transform:scaleX(0.9403);">Dec 17</span>
<span class="t" style="left:1433.76px;top:568.26px;font-size:10.8px;font-weight:400;color:#9a9da4;transform:scaleX(0.9378);">Dec 19</span>
<span class="t" style="left:1540.86px;top:568.26px;font-size:10.8px;font-weight:400;color:#9a9da4;transform:scaleX(0.9460);">Dec 21</span>
<span class="t" style="left:1647.86px;top:568.26px;font-size:10.8px;font-weight:400;color:#9a9da4;transform:scaleX(0.9381);">Dec 23</span>
<span class="t" style="left:1754.63px;top:568.26px;font-size:10.8px;font-weight:400;color:#9a9da4;transform:scaleX(0.9379);">Dec 25</span>
<span class="t" style="left:1849.90px;top:568.26px;font-size:10.8px;font-weight:400;color:#9a9da4;transform:scaleX(0.9539);">Dec 27</span>
<span class="t" style="left:288.98px;top:676.91px;font-size:14.4px;font-weight:400;color:#f1f2f4;transform:scaleX(0.9470);-webkit-text-stroke:.5px #f1f2f4;">Message Volume</span>
<span class="t" style="left:267.32px;top:738.73px;font-size:12.6px;font-weight:400;color:#a3a6ad;transform:scaleX(0.9443);">Total Messages</span>
<span class="t" style="left:733.68px;top:739.41px;font-size:14.4px;font-weight:700;color:#f1f2f4;transform:scaleX(1.0274);">7440</span>
<span class="t" style="left:282.34px;top:770.53px;font-size:12.6px;font-weight:400;color:#a3a6ad;transform:scaleX(0.9127);">AI Messages</span>
<span class="t" style="left:733.98px;top:770.61px;font-size:14.4px;font-weight:700;color:#f1f2f4;transform:scaleX(1.0230);">3736</span>
<span class="t" style="left:281.29px;top:802.73px;font-size:12.6px;font-weight:400;color:#a3a6ad;transform:scaleX(0.9389);">Human Messages</span>
<span class="t" style="left:757.97px;top:802.71px;font-size:14.4px;font-weight:700;color:#f1f2f4;transform:scaleX(1.1141);">0</span>
<span class="t" style="left:266.86px;top:834.53px;font-size:12.6px;font-weight:400;color:#a3a6ad;transform:scaleX(0.9502);">Messages/Chat</span>
<span class="t" style="left:751.90px;top:837.15px;font-size:10.1px;font-weight:700;color:#f1f2f4;transform:scaleX(1.0000);">8</span>
<span class="t" style="left:846.66px;top:676.91px;font-size:14.4px;font-weight:400;color:#f1f2f4;transform:scaleX(0.9530);-webkit-text-stroke:.5px #f1f2f4;">Response Metrics</span>
<span class="t" style="left:825.29px;top:737.63px;font-size:12.6px;font-weight:400;color:#a3a6ad;transform:scaleX(0.9421);">First Response</span>
<span class="t" style="left:825.99px;top:768.53px;font-size:12.6px;font-weight:400;color:#a3a6ad;transform:scaleX(0.9476);">Avg Duration</span>
<span class="t" style="left:826.09px;top:798.63px;font-size:12.6px;font-weight:400;color:#a3a6ad;transform:scaleX(0.9225);">Active Chats</span>
<span class="t" style="left:826.02px;top:830.43px;font-size:12.6px;font-weight:400;color:#a3a6ad;transform:scaleX(0.9372);">Total Resolved</span>
<span class="t" style="left:1290.70px;top:740.35px;font-size:10.1px;font-weight:700;color:#f1f2f4;transform:scaleX(1.0000);">0 min</span>
<span class="t" style="left:1290.05px;top:769.95px;font-size:10.1px;font-weight:700;color:#f1f2f4;transform:scaleX(1.0211);">5 min</span>
<span class="t" style="left:1298.36px;top:801.35px;font-size:10.1px;font-weight:700;color:#f6eaf6;transform:scaleX(1.0943);">474</span>
<span class="t" style="left:1298.20px;top:832.05px;font-size:10.1px;font-weight:700;color:#f1f2f4;transform:scaleX(1.1053);">445</span>
<span class="t" style="left:1405.30px;top:676.91px;font-size:14.4px;font-weight:400;color:#f1f2f4;transform:scaleX(0.9508);-webkit-text-stroke:.5px #f1f2f4;">Satisfaction Score</span>
<span class="t" style="left:1593.58px;top:751.94px;font-size:31.6px;font-weight:700;color:#f0f0f1;transform:scaleX(0.9811);">4.5</span>
<span class="t" style="left:1576.75px;top:793.93px;font-size:12.6px;font-weight:400;color:#a3a6ad;transform:scaleX(0.9533);">Based on 454 ratings</span>
<span class="t" style="left:1383.66px;top:828.13px;font-size:12.6px;font-weight:400;color:#a3a6ad;transform:scaleX(0.9480);">Resolution Rate</span>
<span class="t" style="left:1847.96px;top:829.55px;font-size:10.1px;font-weight:700;color:#f6eaf6;transform:scaleX(0.9382);">48.5%</span>
</body></html>
